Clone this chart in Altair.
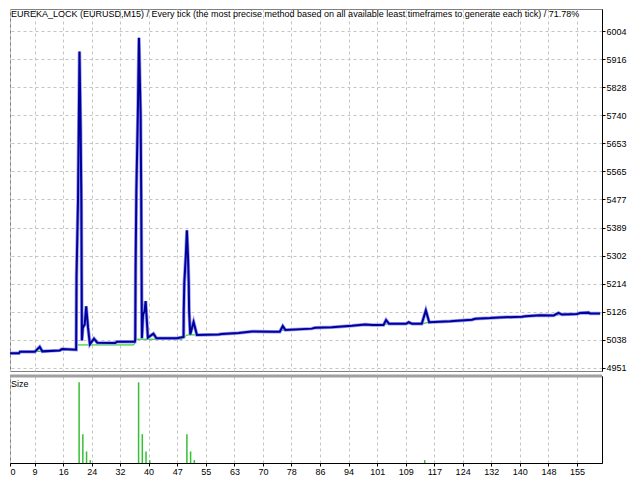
import json

import altair as alt
import pandas as pd

# balance curve (blue): trade number -> account value
bal_x = [1.3, 4.8, 5.1, 9.1, 10.4, 11.1, 15.8, 16.4, 20.2, 20.3,
         20.7, 20.9, 21.1, 21.4, 21.6, 21.75, 22.0, 22.5, 22.9, 23.4,
         23.9, 25.0, 25.9, 30.7, 31.2, 36.0, 36.1, 36.2, 36.4, 36.8,
         37.1, 37.55, 37.7, 37.9, 38.2, 38.6, 38.9, 39.5, 41.0, 41.8,
         47.3, 49.1, 49.15, 49.3, 49.7, 50.0, 50.3, 50.5, 50.6, 50.9,
         51.8, 52.7, 58.5, 59.4, 63.9, 67.5, 72.9, 75.0, 75.8, 76.5,
         83.6, 84.5, 89.0, 90.8, 94.4, 98.0, 99.8, 101.6, 102.9, 103.6,
         104.4, 109.0, 109.7, 110.6, 113.2, 114.3, 115.2, 120.9, 121.8, 126.7,
         127.6, 131.6, 133.9, 140.2, 141.1, 145.1, 148.7, 150.0, 150.9, 155.0,
         155.8, 158.1, 158.5, 161.2]
bal_y = [4997, 4997, 5002, 5002, 5017, 5003, 5006, 5010, 5008, 5237,
         5473, 5705, 5940, 5705, 5473, 5037, 5077, 5087, 5144, 5077,
         5025, 5043, 5030, 5029, 5033, 5033, 5041, 5268, 5504, 5741,
         5983, 5741, 5504, 5044, 5118, 5128, 5160, 5046, 5058, 5044,
         5044, 5048, 5129, 5216, 5299, 5381, 5299, 5216, 5129, 5056,
         5095, 5054, 5056, 5057, 5060, 5065, 5064, 5064, 5082, 5070,
         5074, 5077, 5078, 5080, 5083, 5087, 5085, 5085, 5085, 5101,
         5089, 5089, 5094, 5089, 5089, 5131, 5094, 5097, 5098, 5102,
         5105, 5107, 5109, 5111, 5113, 5116, 5115, 5123, 5118, 5120,
         5123, 5124, 5121, 5121]

# equity curve (green)
eq_x = [1.3, 4.8, 5.1, 11.1, 15.8, 16.4, 19.5, 20.7, 35.7, 36.5,
        48.7, 50.0, 58.5, 59.4, 63.9, 67.5, 72.9, 76.5, 83.6, 84.5,
        89.0, 90.8, 94.4, 98.0, 101.6, 104.4, 113.2, 115.2, 120.9, 121.8,
        126.7, 127.6, 133.9, 140.2, 141.1, 145.1, 148.7, 150.9, 155.0, 155.8,
        158.5, 161.2]
eq_y = [4997, 4997, 5002, 5003, 5006, 5010, 5008, 5023, 5023, 5041,
        5041, 5054, 5056, 5057, 5060, 5065, 5064, 5070, 5074, 5077,
        5078, 5080, 5083, 5087, 5085, 5089, 5089, 5094, 5097, 5098,
        5102, 5105, 5109, 5111, 5113, 5116, 5115, 5118, 5120, 5123,
        5121, 5121]

# lot size per trade
lot_x = [21, 22, 23, 24, 37, 38, 39, 40, 50, 51, 52, 114]
lot_size = [0.28, 0.1, 0.04, 0.01, 0.28, 0.1, 0.04, 0.01, 0.1, 0.04, 0.01, 0.01]

# axis ticks
y_ticks = [4951, 5038.75, 5126.5, 5214.25, 5302, 5389.75, 5477.5, 5565.25,
           5653, 5740.75, 5828.5, 5916.25, 6004]
x_ticks = [2.4, 9.0, 16.7, 24.4, 32.0, 39.7, 47.4, 55.1, 62.8, 70.5, 78.1,
           85.8, 93.5, 101.2, 108.9, 116.6, 124.2, 131.9, 139.6, 147.3, 155.0]
x_labels = ["0", "9", "16", "24", "32", "40", "47", "55", "63", "70", "78",
            "86", "94", "101", "109", "117", "124", "132", "140", "148", "155"]

title_text = ("EUREKA_LOCK (EURUSD,M15) / Every tick (the most precise method based on "
              "all available least timeframes to generate each tick) / 71.78%")

W = 592
H_MAIN = 362
H_SIZE = 87
X_DOMAIN = [2.4, 161.7]
Y_DOMAIN = [4941.6, 6072.75]
SIZE_DOMAIN = [0, 0.302]
FONT = "Liberation Sans"

balance = pd.DataFrame({"trade": bal_x, "value": bal_y})
equity = pd.DataFrame({"trade": eq_x, "value": eq_y})
lots = pd.DataFrame({"trade": lot_x, "size": lot_size})

x_label_expr = f"{json.dumps(x_labels)}[indexof({json.dumps(x_ticks)}, datum.value)]"
x_scale = alt.Scale(domain=X_DOMAIN, nice=False, zero=False)

# ---- main panel ----
x_main = alt.X("trade:Q", scale=x_scale,
               axis=alt.Axis(values=x_ticks, labels=False, ticks=False,
                             domain=False, grid=True, title=None))
y_main = alt.Y("value:Q", scale=alt.Scale(domain=Y_DOMAIN, nice=False, zero=False),
               axis=alt.Axis(orient="right", values=y_ticks, labelExpr="floor(datum.value)",
                             tickSize=3, labelPadding=1, grid=True, title=None))

eq_line = alt.Chart(equity).mark_line(color="#00c800", strokeWidth=1, clip=True).encode(
    x=x_main, y=y_main)
bal_glow = alt.Chart(balance).mark_line(color="#9a9af5", strokeWidth=3.5, clip=True).encode(
    x=x_main, y=y_main)
bal_line = alt.Chart(balance).mark_line(color="#00009a", strokeWidth=2, clip=True).encode(
    x=x_main, y=y_main)
title = alt.Chart(pd.DataFrame({"t": [title_text]})).mark_text(
    align="left", baseline="middle", font=FONT, fontSize=9, color="black"
).encode(x=alt.value(1), y=alt.value(5), text="t:N")

main = alt.layer(eq_line, bal_glow, bal_line, title).properties(width=W, height=H_MAIN)

# ---- size panel ----
x_size = alt.X("trade:Q", scale=x_scale,
               axis=alt.Axis(values=x_ticks, labelExpr=x_label_expr, labelFlush=True,
                             tickSize=3, labelPadding=1, grid=True, title=None))
bars = alt.Chart(lots).mark_rule(color="#33c033", strokeWidth=1.5).encode(
    x=x_size,
    y=alt.Y("size:Q", scale=alt.Scale(domain=SIZE_DOMAIN, nice=False),
            axis=alt.Axis(orient="right", labels=False, ticks=False, grid=False, title=None)),
    y2=alt.datum(0),
)
separator = alt.Chart(pd.DataFrame({"a": [0]})).mark_rule(color="#a0a0a0", strokeWidth=3).encode(
    x=alt.value(0), x2=alt.value(W), y=alt.value(0))
size_label = alt.Chart(pd.DataFrame({"t": ["Size"]})).mark_text(
    align="left", baseline="middle", font=FONT, fontSize=9, color="black"
).encode(x=alt.value(1), y=alt.value(8), text="t:N")

size_panel = alt.layer(bars, separator, size_label).properties(width=W, height=H_SIZE)

chart = (
    alt.vconcat(main, size_panel, spacing=0)
    .properties(padding={"left": 0, "top": 0, "right": 2, "bottom": 0}, background="white")
    .configure_view(stroke="#808080", strokeWidth=1)
    .configure_axis(
        labelFont=FONT, labelFontSize=9, labelColor="black",
        domainColor="black", tickColor="black",
        gridColor="#c4c4c4", gridDash=[3, 3], gridWidth=1,
    )
)

chart.save("out.html", embed_options={"renderer": "svg", "actions": False})
